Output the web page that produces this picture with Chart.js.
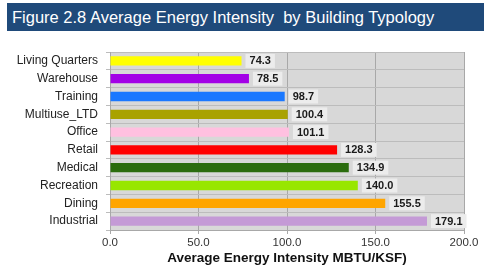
<!DOCTYPE html>
<html>
<head>
<meta charset="utf-8">
<script src="https://cdn.jsdelivr.net/npm/chart.js@4/dist/chart.umd.min.js"></script>
<style>
  body { margin: 0; background: #fff; }
  #wrap { position: relative; width: 484px; height: 266px; }
  #banner {
    position: absolute; left: 7px; top: 3px; width: 477px; height: 28px;
    background: #1f4a7a; color: #fff;
    font: 16.5px "Liberation Sans", Arial, sans-serif;
    line-height: 28px; padding-left: 5px; box-sizing: border-box; white-space: nowrap;
  }
  canvas { position: absolute; left: 0; top: 0; }
</style>
</head>
<body>
<div id="wrap">
  <canvas id="chart" width="484" height="266"></canvas>
  <div id="banner">Figure 2.8 Average Energy Intensity&nbsp; by Building Typology</div>
</div>
<script>
var categories = ["Living Quarters", "Warehouse", "Training", "Multiuse_LTD", "Office",
                  "Retail", "Medical", "Recreation", "Dining", "Industrial"];
var values = [74.3, 78.5, 98.7, 100.4, 101.1, 128.3, 134.9, 140.0, 155.5, 179.1];
var barColors = ["#ffff00", "#a300e6", "#1a78ff", "#a9a200", "#ffc0e0",
                 "#ff0000", "#2b6c0e", "#98e600", "#ffa500", "#c49ad6"];
var xTicks = [0, 50, 100, 150, 200];

// grey plot background
var plotBg = {
  id: "plotBg",
  beforeDraw: function (chart) {
    var a = chart.chartArea, ctx = chart.ctx;
    ctx.save();
    ctx.fillStyle = "#d8d8d8";
    ctx.fillRect(a.left, a.top, a.right - a.left, a.bottom - a.top);
    ctx.restore();
  }
};

// value boxes to the right of each bar
var valueLabels = {
  id: "valueLabels",
  afterDatasetsDraw: function (chart) {
    var ctx = chart.ctx;
    var meta = chart.getDatasetMeta(0);
    ctx.save();
    ctx.font = "bold 11px 'Liberation Sans', Arial, sans-serif";
    ctx.textBaseline = "middle";
    meta.data.forEach(function (bar, i) {
      var txt = values[i].toFixed(1);
      var w = ctx.measureText(txt).width;
      var x = bar.x + 4;
      ctx.fillStyle = "#ececec";
      ctx.fillRect(x, bar.y - 7, w + 8, 14);
      ctx.fillStyle = "#1a1a1a";
      ctx.fillText(txt, x + 4, bar.y + 0.5);
    });
    ctx.restore();
  }
};

new Chart(document.getElementById("chart"), {
  type: "bar",
  data: {
    labels: categories,
    datasets: [{
      data: values,
      backgroundColor: barColors,
      borderWidth: 0,
      categoryPercentage: 0.52,
      barPercentage: 1.0
    }]
  },
  options: {
    indexAxis: "y",
    responsive: false,
    animation: false,
    layout: { padding: { top: 52, right: 20, left: 0, bottom: 0 } },
    plugins: {
      legend: { display: false },
      tooltip: { enabled: false }
    },
    scales: {
      x: {
        min: 0, max: 200,
        afterBuildTicks: function (s) { s.ticks = xTicks.map(function (v) { return { value: v }; }); },
        afterFit: function (s) { s.height = 36; },
        grid: { color: "#a8a8a8", tickLength: 4, tickColor: "#a8a8a8" },
        border: { color: "#a8a8a8" },
        ticks: {
          color: "#333",
          font: { family: "'Liberation Sans', Arial, sans-serif", size: 11.5 },
          padding: 2,
          callback: function (v) { return Number(v).toFixed(1); }
        },
        title: {
          display: true,
          text: "Average Energy Intensity MBTU/KSF)",
          color: "#111",
          font: { family: "'Liberation Sans', Arial, sans-serif", size: 13.5, weight: "bold" },
          padding: { top: 0, bottom: 0 }
        }
      },
      y: {
        afterFit: function (s) { s.width = 110; },
        grid: { color: "#bcbcbc", offset: true, tickLength: 4, tickColor: "#bcbcbc" },
        border: { color: "#a8a8a8" },
        ticks: {
          color: "#222",
          font: { family: "'Liberation Sans', Arial, sans-serif", size: 12 },
          padding: 8
        }
      }
    }
  },
  plugins: [plotBg, valueLabels]
});
</script>
</body>
</html>
